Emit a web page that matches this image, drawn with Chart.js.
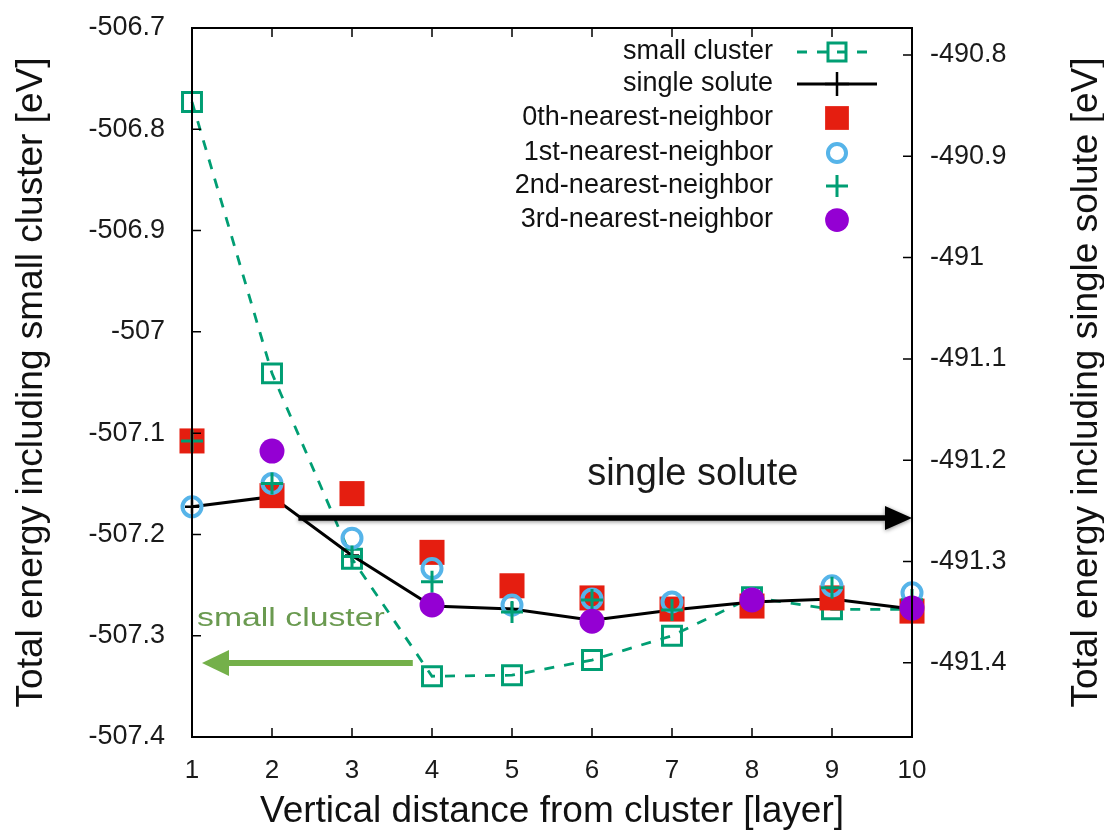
<!DOCTYPE html>
<html lang="en">
<head>
<meta charset="utf-8">
<title>Total energy vs vertical distance from cluster</title>
<script src="https://cdn.jsdelivr.net/npm/chart.js@4.4.1/dist/chart.umd.min.js"></script>
<style>
  html, body { margin: 0; padding: 0; background: #fff; }
  #contenedor { width: 1104px; height: 831px; }
</style>
</head>
<body>
<div id="contenedor"><canvas id="grafico" width="1104" height="831"></canvas></div>
<script>
/* Datos: distancia vertical (capas) y energías totales [eV] */
const capas = [1, 2, 3, 4, 5, 6, 7, 8, 9, 10];

// eje izquierdo
const pequenoCluster = [-506.773, -507.041, -507.224, -507.340, -507.339, -507.324, -507.300, -507.262, -507.274, -507.274];

// eje derecho
const solutoUnico = [-491.246, -491.236, -491.294, -491.344, -491.347, -491.358, -491.348, -491.340, -491.337, -491.347];
const vecino0 = [-491.181, -491.235, -491.233, -491.291, -491.324, -491.336, -491.347, -491.344, -491.336, -491.349];
const vecino1 = [-491.246, -491.223, -491.277, -491.307, -491.343, -491.337, -491.340, -491.337, -491.324, -491.331];
const vecino2 = [-491.181, -491.223, -491.295, -491.320, -491.350, -491.338, -491.348, -491.338, -491.326, -491.338];
const vecino3 = [null, -491.191, null, -491.343, null, -491.359, null, -491.338, null, -491.346];

// ticks y límites de los ejes
const ticksIzq = [-507.4, -507.3, -507.2, -507.1, -507.0, -506.9, -506.8, -506.7];
const ticksDer = [-491.4, -491.3, -491.2, -491.1, -491.0, -490.9, -490.8];
const limIzq = [-507.4, -506.7];
const limDer = [-491.4733, -490.7733];

const FUENTE = '"Liberation Sans", Arial, sans-serif';

// convierte una serie en puntos {x, y}, quitando los huecos
function puntos(serie) {
    return capas.map((c, i) => ({ x: c, y: serie[i] })).filter(p => p.y !== null);
}

function etiqueta(v) {
    return String(Number(v.toFixed(1)));
}

// sin márgenes extra por las etiquetas de los extremos
function sinRelleno(s) {
    s.paddingTop = 0; s.paddingBottom = 0;
    s.paddingLeft = 0; s.paddingRight = 0;
}

// dibuja un marcador (para la leyenda)
function marcador(ctx, tipo, x, y, r, relleno, borde, grosor) {
    ctx.save();
    ctx.lineWidth = grosor;
    ctx.strokeStyle = borde;
    ctx.fillStyle = relleno;
    ctx.beginPath();
    if (tipo === 'rect') {
        const s = r * Math.SQRT1_2;
        ctx.rect(x - s, y - s, 2 * s, 2 * s);
    } else if (tipo === 'circle') {
        ctx.arc(x, y, r, 0, 2 * Math.PI);
    } else {
        ctx.moveTo(x - r, y); ctx.lineTo(x + r, y);
        ctx.moveTo(x, y - r); ctx.lineTo(x, y + r);
    }
    if (tipo !== 'cross') ctx.fill();
    if (grosor > 0) ctx.stroke();
    ctx.restore();
}

function flecha(ctx, x1, x2, y, grosor, largo, alto, color) {
    const dir = Math.sign(x2 - x1);
    ctx.beginPath();
    ctx.strokeStyle = color;
    ctx.fillStyle = color;
    ctx.lineWidth = grosor;
    ctx.moveTo(x1, y);
    ctx.lineTo(x2 - dir * largo, y);
    ctx.stroke();
    ctx.beginPath();
    ctx.moveTo(x2, y);
    ctx.lineTo(x2 - dir * largo, y - alto / 2);
    ctx.lineTo(x2 - dir * largo, y + alto / 2);
    ctx.closePath();
    ctx.fill();
}

// marco, ticks hacia dentro, leyenda, flechas y título derecho
const extras = {
    id: 'extras',
    afterDatasetsDraw(chart) {
        const ctx = chart.ctx;
        const a = chart.chartArea;
        const sx = chart.scales.x, si = chart.scales.yIzq, sd = chart.scales.yDer;

        ctx.save();
        // ticks
        ctx.strokeStyle = '#000';
        ctx.lineWidth = 1.5;
        ctx.beginPath();
        capas.forEach(c => {
            const px = sx.getPixelForValue(c);
            ctx.moveTo(px, a.bottom); ctx.lineTo(px, a.bottom - 9);
            ctx.moveTo(px, a.top); ctx.lineTo(px, a.top + 9);
        });
        ticksIzq.forEach(v => {
            const py = si.getPixelForValue(v);
            ctx.moveTo(a.left, py); ctx.lineTo(a.left + 9, py);
        });
        ticksDer.forEach(v => {
            const py = sd.getPixelForValue(v);
            ctx.moveTo(a.right, py); ctx.lineTo(a.right - 9, py);
        });
        ctx.stroke();
        ctx.lineWidth = 2;
        ctx.strokeRect(a.left, a.top, a.right - a.left, a.bottom - a.top);

        // leyenda
        const xTexto = 773, xSimbolo = 837;
        const filas = [52, 84, 118, 153, 186, 220];
        ctx.font = '27px ' + FUENTE;
        ctx.textAlign = 'right';
        ctx.textBaseline = 'middle';
        chart.data.datasets.forEach((ds, i) => {
            const y = filas[i];
            ctx.fillStyle = '#111';
            ctx.fillText(ds.label, xTexto, y);
            if (ds.showLine) {
                ctx.save();
                ctx.strokeStyle = ds.borderColor;
                ctx.lineWidth = ds.borderWidth;
                ctx.setLineDash(ds.borderDash || []);
                ctx.beginPath();
                ctx.moveTo(797, y); ctx.lineTo(877, y);
                ctx.stroke();
                ctx.restore();
            }
            const r = ds.pointStyle === 'cross' ? ds.pointRadius + (ds.showLine ? 5 : 0) : ds.pointRadius * 0.95;
            marcador(ctx, ds.pointStyle, xSimbolo, y, r, ds.pointBackgroundColor, ds.pointBorderColor, ds.pointBorderWidth);
        });

        // anotación: single solute -> eje derecho
        ctx.save();
        ctx.shadowColor = 'rgba(0,0,0,0.45)';
        ctx.shadowBlur = 4;
        ctx.shadowOffsetY = 1;
        flecha(ctx, sx.getPixelForValue(2.33), sx.getPixelForValue(10), sd.getPixelForValue(-491.257), 5.5, 27, 24, '#000');
        ctx.restore();
        ctx.font = '38px ' + FUENTE;
        ctx.textAlign = 'center';
        ctx.textBaseline = 'alphabetic';
        ctx.fillStyle = '#1a1a1a';
        ctx.fillText('single solute', sx.getPixelForValue(7.26), sd.getPixelForValue(-491.2245));

        // anotación: small cluster -> eje izquierdo
        flecha(ctx, sx.getPixelForValue(3.76), sx.getPixelForValue(1.125), si.getPixelForValue(-507.327), 6, 27, 26, '#74b04a');
        ctx.save();
        ctx.translate(sx.getPixelForValue(1.0625), si.getPixelForValue(-507.290));
        ctx.scale(1.3, 1);
        ctx.font = '26px ' + FUENTE;
        ctx.textAlign = 'left';
        ctx.fillStyle = '#6a9a50';
        ctx.fillText('small cluster', 0, 0);
        ctx.restore();

        // título del eje derecho (girado igual que el izquierdo)
        ctx.save();
        ctx.translate(1087, (a.top + a.bottom) / 2);
        ctx.rotate(-Math.PI / 2);
        ctx.font = '37px ' + FUENTE;
        ctx.textAlign = 'center';
        ctx.textBaseline = 'middle';
        ctx.fillStyle = '#111';
        ctx.fillText('Total energy including single solute [eV]', 0, 0);
        ctx.restore();

        ctx.restore();
    }
};

const ctx = document.getElementById('grafico').getContext('2d');
new Chart(ctx, {
    type: 'line',
    data: {
        datasets: [
            {
                label: 'small cluster', data: puntos(pequenoCluster), yAxisID: 'yIzq',
                showLine: true, borderColor: '#009e73', borderWidth: 2.8, borderDash: [10, 10],
                pointStyle: 'rect', pointRadius: 13.4, pointBorderWidth: 3,
                pointBorderColor: '#009e73', pointBackgroundColor: 'rgba(0,0,0,0)', order: 6
            },
            {
                label: 'single solute', data: puntos(solutoUnico), yAxisID: 'yDer',
                showLine: true, borderColor: '#000', borderWidth: 3,
                pointStyle: 'cross', pointRadius: 7, pointBorderWidth: 2.5,
                pointBorderColor: '#000', pointBackgroundColor: '#000', order: 5
            },
            {
                label: '0th-nearest-neighbor', data: puntos(vecino0), yAxisID: 'yDer',
                showLine: false, pointStyle: 'rect', pointRadius: 17.7, pointBorderWidth: 0,
                pointBorderColor: '#e51e10', pointBackgroundColor: '#e51e10', order: 4
            },
            {
                label: '1st-nearest-neighbor', data: puntos(vecino1), yAxisID: 'yDer',
                showLine: false, pointStyle: 'circle', pointRadius: 9.5, pointBorderWidth: 4,
                pointBorderColor: '#56b4e9', pointBackgroundColor: 'rgba(0,0,0,0)', order: 3
            },
            {
                label: '2nd-nearest-neighbor', data: puntos(vecino2), yAxisID: 'yDer',
                showLine: false, pointStyle: 'cross', pointRadius: 11, pointBorderWidth: 3,
                pointBorderColor: '#009e73', pointBackgroundColor: '#009e73', order: 2
            },
            {
                label: '3rd-nearest-neighbor', data: puntos(vecino3), yAxisID: 'yDer',
                showLine: false, pointStyle: 'circle', pointRadius: 12.5, pointBorderWidth: 0,
                pointBorderColor: '#9400d3', pointBackgroundColor: '#9400d3', order: 1
            }
        ]
    },
    options: {
        responsive: false,
        animation: false,
        layout: { padding: { top: 28, left: 0, right: 0, bottom: 0 } },
        elements: { line: { tension: 0 } },
        datasets: { line: { clip: false } },
        plugins: { legend: { display: false }, tooltip: { enabled: false } },
        scales: {
            x: {
                type: 'linear', min: 1, max: 10,
                afterBuildTicks: s => { s.ticks = capas.map(v => ({ value: v })); },
                afterFit: s => { s.height = 94; sinRelleno(s); },
                grid: { display: false, drawTicks: false },
                border: { display: false },
                ticks: { padding: 18, color: '#1a1a1a', font: { family: FUENTE, size: 26 } },
                title: {
                    display: true, text: 'Vertical distance from cluster [layer]', color: '#111',
                    font: { family: FUENTE, size: 37, lineHeight: 1.05 }, padding: { top: 0, bottom: 0 }
                }
            },
            yIzq: {
                type: 'linear', position: 'left', min: limIzq[0], max: limIzq[1],
                afterBuildTicks: s => { s.ticks = ticksIzq.map(v => ({ value: v })); },
                afterFit: s => { s.width = 192; sinRelleno(s); },
                grid: { display: false, drawTicks: false },
                border: { display: false },
                ticks: { padding: 27, color: '#1a1a1a', font: { family: FUENTE, size: 27 }, callback: v => etiqueta(v) },
                title: {
                    display: true, text: 'Total energy including small cluster [eV]', color: '#111',
                    font: { family: FUENTE, size: 37 }, padding: { top: 10, bottom: 10 }
                }
            },
            yDer: {
                type: 'linear', position: 'right', min: limDer[0], max: limDer[1],
                afterBuildTicks: s => { s.ticks = ticksDer.map(v => ({ value: v })); },
                afterFit: s => { s.width = 192; sinRelleno(s); },
                grid: { display: false, drawTicks: false },
                border: { display: false },
                ticks: { padding: 18, color: '#1a1a1a', font: { family: FUENTE, size: 27 }, callback: v => etiqueta(v) }
            }
        }
    },
    plugins: [extras]
});
</script>
</body>
</html>
